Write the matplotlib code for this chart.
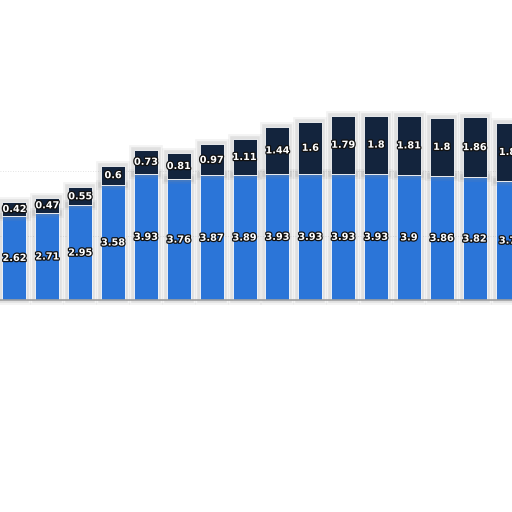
import numpy as np
import matplotlib
matplotlib.use("Agg")
import matplotlib.pyplot as plt
import matplotlib.patheffects as pe

# valori
base = [2.62, 2.71, 2.95, 3.58, 3.93, 3.76, 3.87, 3.89, 3.93, 3.93, 3.93, 3.93, 3.9, 3.86, 3.82, 3.7]
top = [0.42, 0.47, 0.55, 0.6, 0.73, 0.81, 0.97, 1.11, 1.44, 1.6, 1.79, 1.8, 1.81, 1.8, 1.86, 1.8]
base_lbl = ["2.62", "2.71", "2.95", "3.58", "3.93", "3.76", "3.87", "3.89", "3.93", "3.93",
            "3.93", "3.93", "3.9", "3.86", "3.82", "3.7"]
top_lbl = ["0.42", "0.47", "0.55", "0.6", "0.73", "0.81", "0.97", "1.11", "1.44", "1.6",
           "1.79", "1.8", "1.81", "1.8", "1.86", "1.8"]

blue = "#2B75D8"
navy = "#13243D"

fig = plt.figure(figsize=(5.12, 5.12), dpi=100)
ax = fig.add_axes([0, 0, 1, 1])
x = np.arange(len(base))

# umbra difuza in jurul barelor
glow = [pe.Stroke(linewidth=7, foreground="#8a8a8a", alpha=0.10),
        pe.Stroke(linewidth=4, foreground="#8a8a8a", alpha=0.18),
        pe.Normal()]

for yg in [2, 4]:
    ax.axhline(yg, color="#dadada", lw=0.6, ls=(0, (1, 2)), zorder=0)

b1 = ax.bar(x, base, width=0.73, color=blue, edgecolor="white", linewidth=0.6, zorder=2)
b2 = ax.bar(x, top, bottom=base, width=0.73, color=navy, edgecolor="white", linewidth=0.6, zorder=2)
for p in list(b1) + list(b2):
    p.set_path_effects(glow)

txt_fx = [pe.withStroke(linewidth=1.8, foreground="#111111")]
for i in range(len(base)):
    ax.text(x[i], base[i] / 2, base_lbl[i], ha="center", va="center", color="white",
            fontsize=7, fontweight="bold", path_effects=txt_fx, zorder=3)
    ax.text(x[i], base[i] + top[i] / 2, top_lbl[i], ha="center", va="center", color="white",
            fontsize=7, fontweight="bold", path_effects=txt_fx, zorder=3)

ax.axhline(0, color="#9e9e9e", lw=1.2, zorder=3)

ax.set_xlim(-0.441, 15.135)
ax.set_ylim(-6.58, 9.32)
ax.axis("off")

fig.savefig("out.png", dpi=100, facecolor="white")
